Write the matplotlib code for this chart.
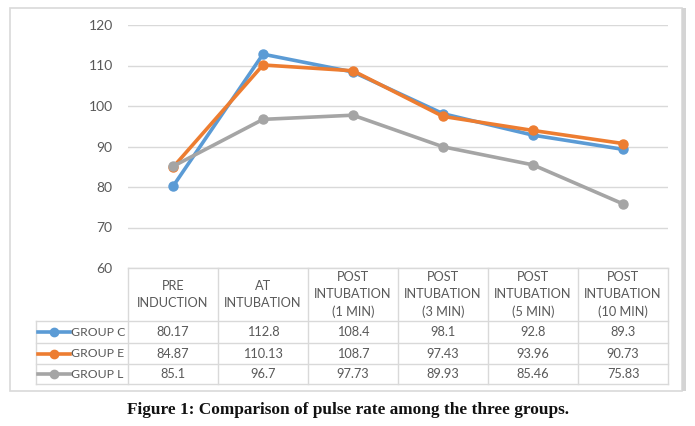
import matplotlib
matplotlib.use("Agg")
import matplotlib.pyplot as plt
from matplotlib.lines import Line2D
from matplotlib.patches import Rectangle

categories = ["PRE\nINDUCTION", "AT\nINTUBATION", "POST\nINTUBATION\n(1 MIN)",
              "POST\nINTUBATION\n(3 MIN)", "POST\nINTUBATION\n(5 MIN)", "POST\nINTUBATION\n(10 MIN)"]
group_c = [80.17, 112.8, 108.4, 98.1, 92.8, 89.3]
group_e = [84.87, 110.13, 108.7, 97.43, 93.96, 90.73]
group_l = [85.1, 96.7, 97.73, 89.93, 85.46, 75.83]
series_names = ["GROUP C", "GROUP E", "GROUP L"]
series_labels = [["80.17", "112.8", "108.4", "98.1", "92.8", "89.3"],
                 ["84.87", "110.13", "108.7", "97.43", "93.96", "90.73"],
                 ["85.1", "96.7", "97.73", "89.93", "85.46", "75.83"]]
colors = ["#5B9BD5", "#ED7D31", "#A5A5A5"]
yticks = [60, 70, 80, 90, 100, 110, 120]
caption = "Figure 1: Comparison of pulse rate among the three groups."

W, H = 695, 426
fig = plt.figure(figsize=(W / 100, H / 100), dpi=100)
plt.rcParams['font.family'] = ['Lato', 'DejaVu Sans']
txt = "#595959"
grid = "#D9D9D9"

def fx(px):
    return px / W

def fy(py):
    return 1 - py / H

# outer frame
fig.patches.append(Rectangle((fx(10), fy(391)), fx(672), (391 - 8) / H, transform=fig.transFigure,
                             fill=False, edgecolor="#D9D9D9", linewidth=1.2))
fig.patches.append(Rectangle((fx(682), fy(391)), fx(4), (391 - 8) / H, transform=fig.transFigure,
                             facecolor="#D4D4D4", edgecolor="none"))

L, R = 128, 668
ax = fig.add_axes([fx(L), fy(268), fx(R - L), (268 - 25) / H])
x = list(range(len(categories)))
for vals, c in zip([group_c, group_e, group_l], colors):
    ax.plot(x, vals, color=c, linewidth=2.6, marker="o", markersize=6.5, zorder=3)
ax.set_xlim(-0.5, 5.5)
ax.set_ylim(60, 120)
ax.set_yticks(yticks)
ax.set_yticklabels([str(t) for t in yticks], color=txt, fontsize=10)
ax.tick_params(axis="y", length=0, pad=11)
ax.set_xticks([])
for s in ax.spines.values():
    s.set_visible(False)
ax.grid(axis="y", color=grid, linewidth=1)
ax.set_axisbelow(True)

# table axes
tax = fig.add_axes([fx(L), fy(384), fx(R - L), (384 - 268) / H])
tax.set_xlim(-0.5, 5.5)
tax.set_ylim(116, 0)
tax.axis("off")
row_y = [0, 53, 75, 96, 116]
lc = "#D9D9D9"
left_ext = -0.5 - (L - 36) / 90.0
# vertical lines
for i in range(len(categories) + 1):
    tax.add_line(Line2D([i - 0.5, i - 0.5], [0, 116], color=lc, linewidth=1, clip_on=False))
tax.add_line(Line2D([left_ext, left_ext], [53, 116], color=lc, linewidth=1, clip_on=False))
# horizontal lines
tax.add_line(Line2D([-0.5, 5.5], [0, 0], color=lc, linewidth=1, clip_on=False))
for yy in row_y[1:]:
    tax.add_line(Line2D([left_ext, 5.5], [yy, yy], color=lc, linewidth=1, clip_on=False))
# header
for i, cat in enumerate(categories):
    tax.text(i, 26.5, cat, ha="center", va="center", color=txt, fontsize=9.2, linespacing=1.5)
# rows
for r, (name, labels, c) in enumerate(zip(series_names, series_labels, colors)):
    yc = (row_y[r + 1] + row_y[r + 2]) / 2
    for i, lab in enumerate(labels):
        tax.text(i, yc, lab, ha="center", va="center", color=txt, fontsize=9.2)
    x0 = left_ext + 2 / 90.0
    tax.add_line(Line2D([x0, x0 + 32 / 90.0], [yc, yc], color=c, linewidth=2.6, clip_on=False))
    tax.add_line(Line2D([x0 + 16 / 90.0], [yc], color=c, marker="o", markersize=6, clip_on=False))
    tax.text(x0 + 33 / 90.0, yc, name, ha="left", va="center", color=txt, fontsize=8.8)

fig.text(fx(348), fy(410), caption, ha="center", va="center", fontsize=12.4,
         fontweight="bold", family=["Liberation Serif", "DejaVu Serif"], color="#111111")

fig.savefig("out.png", dpi=100)
